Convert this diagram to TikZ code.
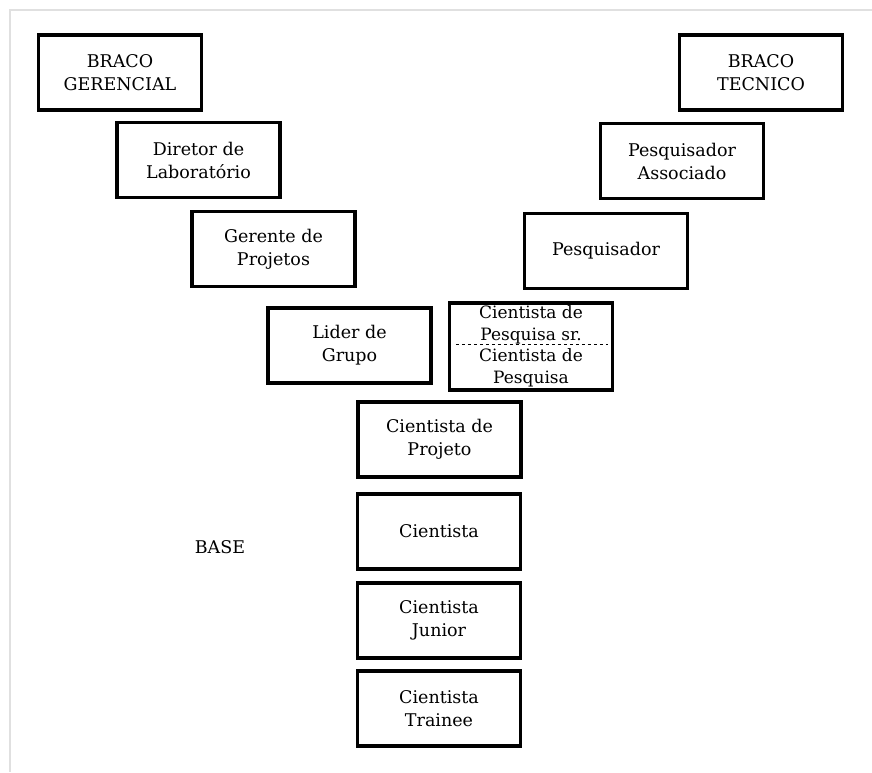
\documentclass[tikz,border=0pt]{standalone}
\usepackage{fontspec}
\setmainfont{DejaVu Serif}
\begin{document}
\begin{tikzpicture}[x=1pt,y=-1pt,
  box/.style={draw=black,line width=3.3pt,rectangle,minimum width=163pt,minimum height=75pt,inner sep=0pt,align=center,font=\fontsize{17.5}{23}\selectfont},
  lbl/.style={inner sep=0pt,font=\fontsize{17.5}{23}\selectfont}]
\useasboundingbox (0,0) rectangle (872,772);
\draw[line width=1.2pt,black!12] (10,772) -- (10,10) -- (872,10);
\node[box] (g1) at (120,72.5) {BRACO\\GERENCIAL};
\node[box] (g2) at (198.5,160) {Diretor de\\Laboratório};
\node[box] (g3) at (273.5,249) {Gerente de\\Projetos};
\node[box] (g4) at (349.5,345.5) {Lider de\\Grupo};
\node[box,minimum height=87pt,font=\fontsize{17}{21.5}\selectfont] (p0) at (531,346.5) {Cientista de\\Pesquisa sr.\\Cientista de\\Pesquisa};
\draw[dashed,line width=1pt] ([xshift=8pt,yshift=2pt]p0.west) coordinate (d1) -- ([xshift=-6pt,yshift=2pt]p0.east) coordinate (d2);
\node[box] (c1) at (439.5,439.5) {Cientista de\\Projeto};
\node[box] (c2) at (439,531.5) {Cientista};
\node[box] (c3) at (439,620.5) {Cientista\\Junior};
\node[box] (c4) at (439,708.5) {Cientista\\Trainee};
\node[box] (t2) at (606,251) {Pesquisador};
\node[box] (t1) at (682,161) {Pesquisador\\Associado};
\node[box] (t0) at (761,72.5) {BRACO\\TECNICO};
\node[lbl] (base) at (220,547) {BASE};
\end{tikzpicture}
\end{document}
